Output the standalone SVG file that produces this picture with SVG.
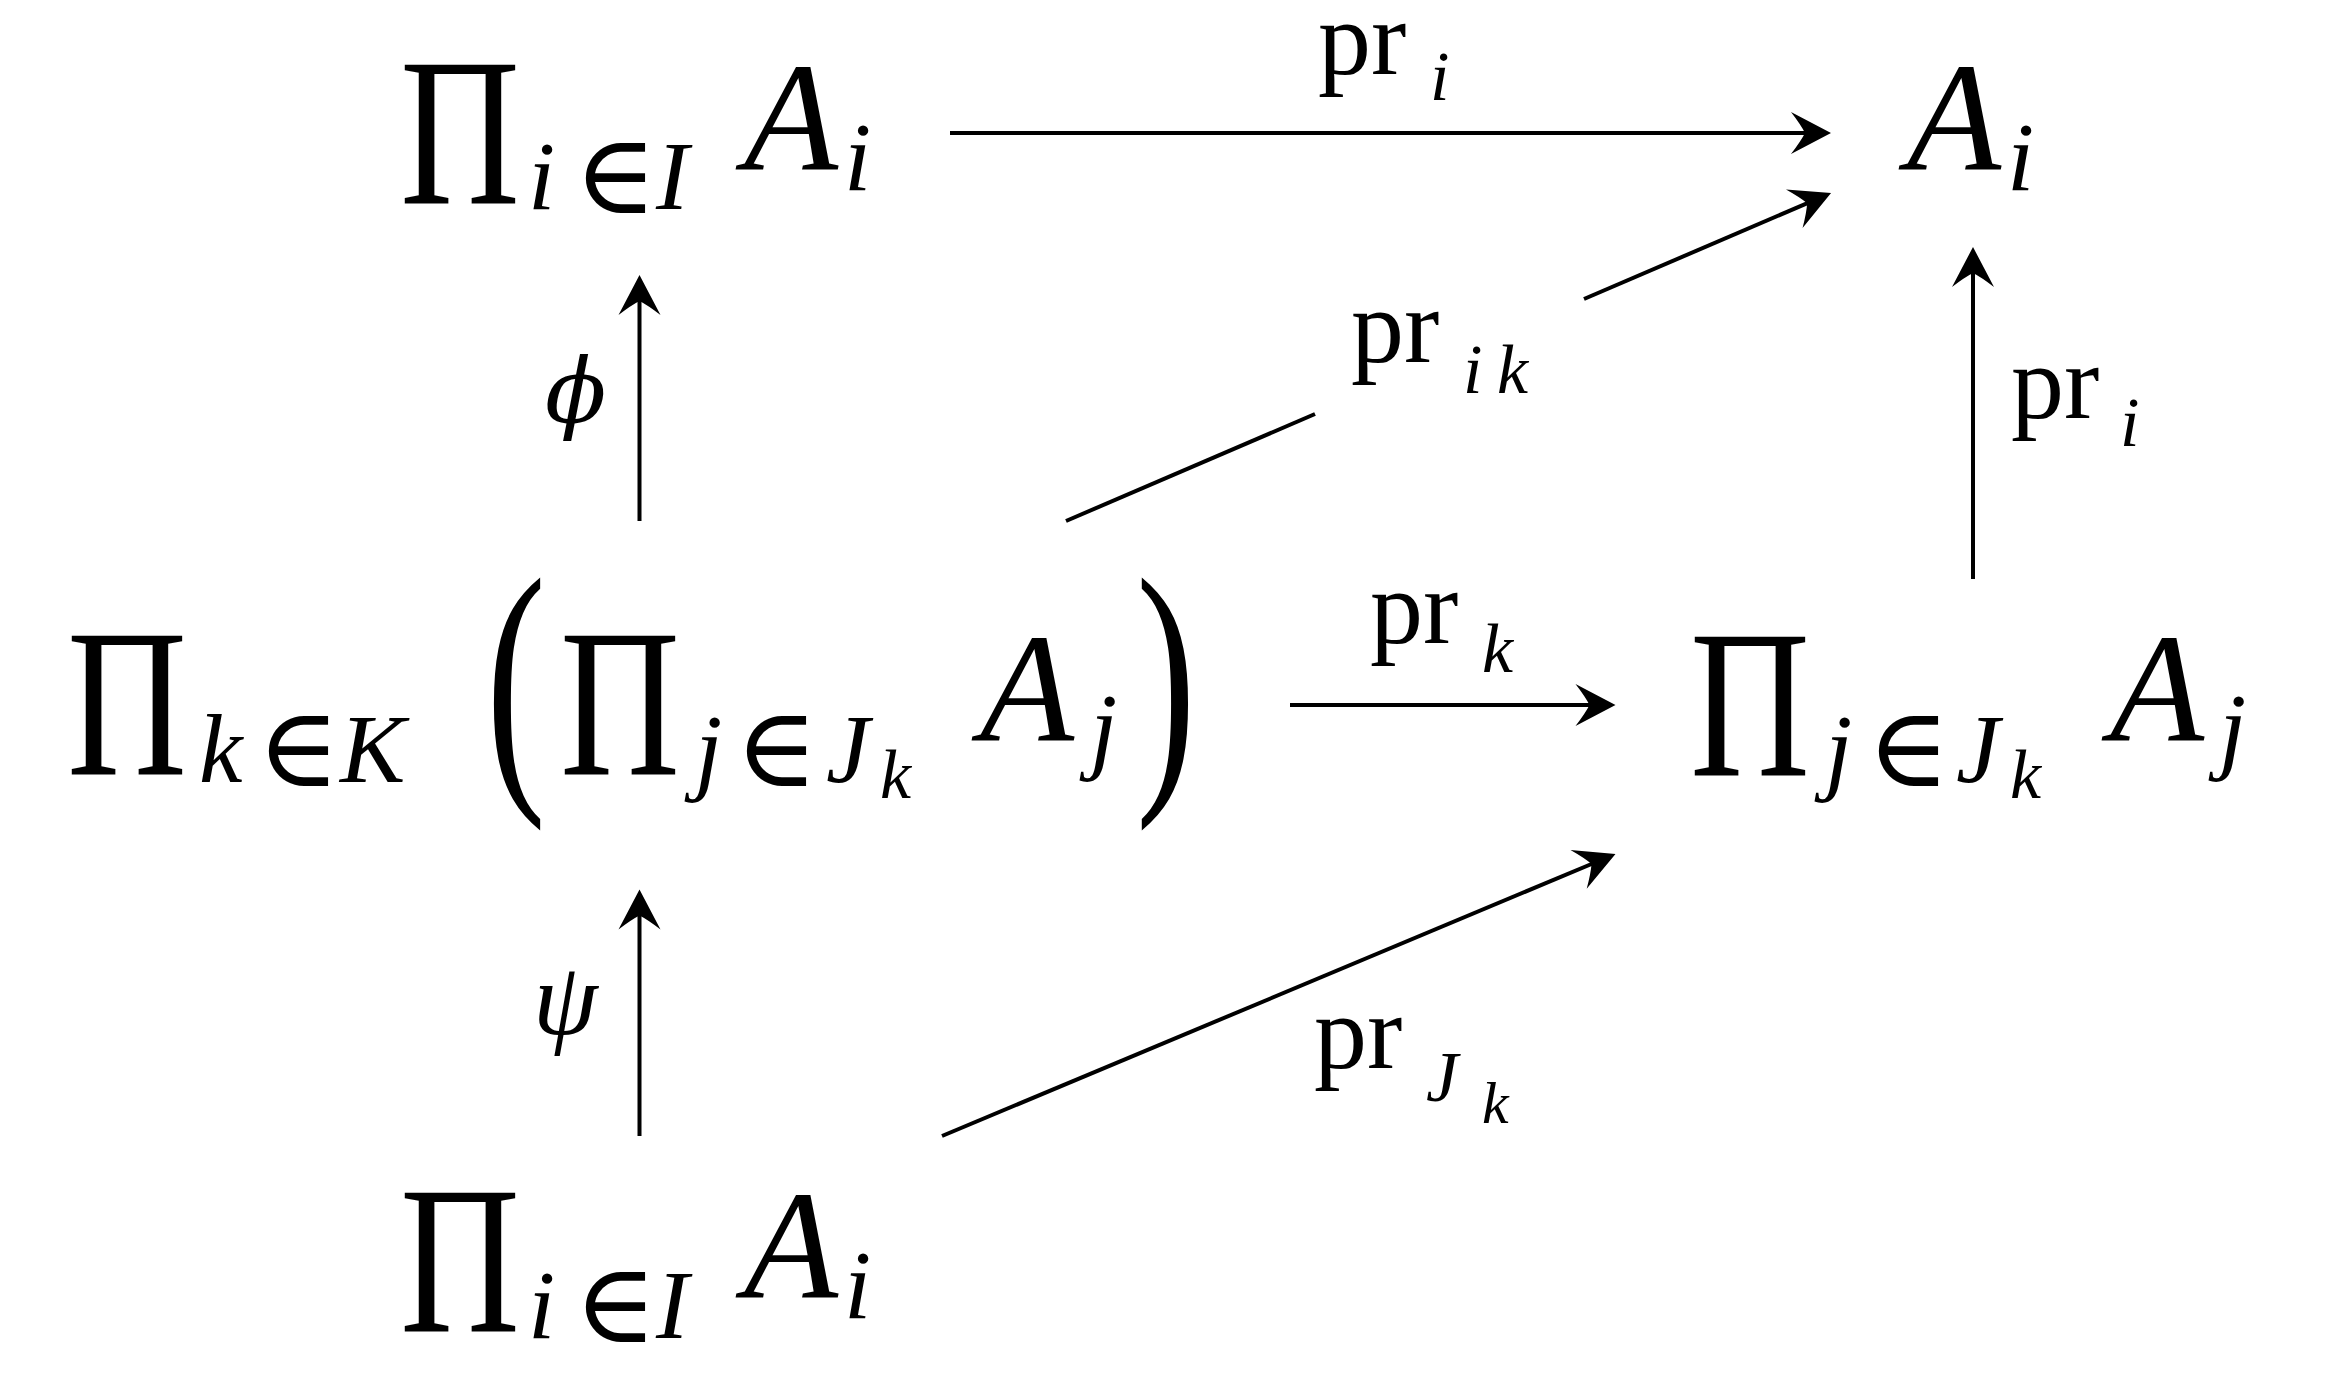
<svg xmlns="http://www.w3.org/2000/svg" width="2327" height="1399" viewBox="0 0 2327 1399">
<defs>
<style>
.m{font-family:"Liberation Serif","DejaVu Serif",serif;fill:#000}
.it{font-style:italic}
.big{font-size:213px}
.var{font-size:154px;font-style:italic}
.sub{font-size:98px;font-style:italic}
.el{font-size:112px;font-family:"DejaVu Serif","Liberation Serif",serif}
.ssub{font-size:70px;font-style:italic}
.lbl{font-size:106px}
.lsub{font-size:70px;font-style:italic}
.par{font-size:150px}
.c{stroke:#000;stroke-width:4;fill:none}
</style>
<marker id="ah" markerUnits="userSpaceOnUse" markerWidth="46" markerHeight="46" refX="27" refY="21" orient="auto" overflow="visible">
<path d="M40,21 L0,0 Q10,13 14,21 Q10,29 0,42 Z" fill="#000"/>
</marker>
</defs>
<rect width="2327" height="1399" fill="#fff"/>

<g id="connectors">
<line class="c" x1="950" y1="133" x2="1818" y2="133" marker-end="url(#ah)"/>
<line class="c" x1="1066" y1="521" x2="1315" y2="414"/>
<line class="c" x1="1584" y1="299" x2="1819.1" y2="198.1" marker-end="url(#ah)"/>
<line class="c" x1="1973" y1="579" x2="1973" y2="260" marker-end="url(#ah)"/>
<line class="c" x1="639.5" y1="521" x2="639.5" y2="288" marker-end="url(#ah)"/>
<line class="c" x1="1290" y1="705" x2="1602.5" y2="705" marker-end="url(#ah)"/>
<line class="c" x1="639.5" y1="1136" x2="639.5" y2="902.5" marker-end="url(#ah)"/>
<line class="c" x1="942" y1="1136" x2="1603.5" y2="859" marker-end="url(#ah)"/>
</g>

<g id="labels">
<g id="lbl-pri-top" class="m"><text class="lbl" x="1318" y="74">pr</text><text class="lsub" x="1430" y="100">i</text></g>
<g id="lbl-prik" class="m"><text class="lbl" x="1351" y="362">pr</text><text class="lsub" x="1463" y="393">i</text><text class="lsub" x="1497" y="393">k</text></g>
<g id="lbl-pri-right" class="m"><text class="lbl" x="2011" y="418">pr</text><text class="lsub" x="2120" y="446">i</text></g>
<g id="lbl-prk" class="m"><text class="lbl" x="1370" y="643">pr</text><text class="lsub" x="1482" y="672">k</text></g>
<g id="lbl-prJk" class="m"><text class="lbl" x="1314" y="1068">pr</text><text class="lsub" x="1426" y="1101" style="font-size:72px">J</text><text class="lsub" x="1482" y="1123" style="font-size:60px">k</text></g>
<g id="lbl-phi"><text x="545" y="422" style="font-family:'DejaVu Serif',serif;font-style:italic;font-size:90px">ϕ</text></g>
<g id="lbl-psi" class="m"><text class="it" x="533" y="1034" style="font-size:104px">ψ</text></g>
</g>

<g id="n-top-left" class="m">
<text class="big" x="400" y="204" textLength="120" lengthAdjust="spacingAndGlyphs">Π</text>
<text class="sub" x="528" y="209">i</text>
<text class="el" x="574" y="213">∈</text>
<text class="sub" x="656" y="209">I</text>
<text class="var" x="744" y="169">A</text>
<text class="sub" x="844" y="190">i</text>
</g>

<g id="n-top-right" class="m">
<text class="var" x="1907" y="169">A</text>
<text class="sub" x="2007" y="190">i</text>
</g>

<g id="n-mid-left" class="m">
<text class="big" x="67" y="775" textLength="120" lengthAdjust="spacingAndGlyphs">Π</text>
<text class="sub" x="199" y="782">k</text>
<text class="el" x="257" y="786">∈</text>
<text class="sub" x="340" y="782">K</text>
<text class="par" transform="translate(486,771) scale(1.2,1.86)" x="0" y="0">(</text>
<text class="big" x="560" y="775" textLength="120" lengthAdjust="spacingAndGlyphs">Π</text>
<text class="sub" x="695" y="782">j</text>
<text class="el" x="735" y="786">∈</text>
<text class="sub" x="826" y="782">J</text>
<text class="ssub" x="880" y="798">k</text>
<text class="var" x="980" y="740">A</text>
<text class="sub" x="1090" y="761">j</text>
<text class="par" transform="translate(1136,771) scale(1.2,1.86)" x="0" y="0">)</text>
</g>

<g id="n-mid-right" class="m">
<text class="big" x="1690" y="776" textLength="120" lengthAdjust="spacingAndGlyphs">Π</text>
<text class="sub" x="1825" y="782">j</text>
<text class="el" x="1867" y="786">∈</text>
<text class="sub" x="1956" y="782">J</text>
<text class="ssub" x="2010" y="798">k</text>
<text class="var" x="2110" y="740">A</text>
<text class="sub" x="2219" y="761">j</text>
</g>

<g id="n-bottom" class="m">
<text class="big" x="400" y="1332" textLength="120" lengthAdjust="spacingAndGlyphs">Π</text>
<text class="sub" x="528" y="1338">i</text>
<text class="el" x="574" y="1342">∈</text>
<text class="sub" x="656" y="1338">I</text>
<text class="var" x="744" y="1297">A</text>
<text class="sub" x="844" y="1318">i</text>
</g>
</svg>
